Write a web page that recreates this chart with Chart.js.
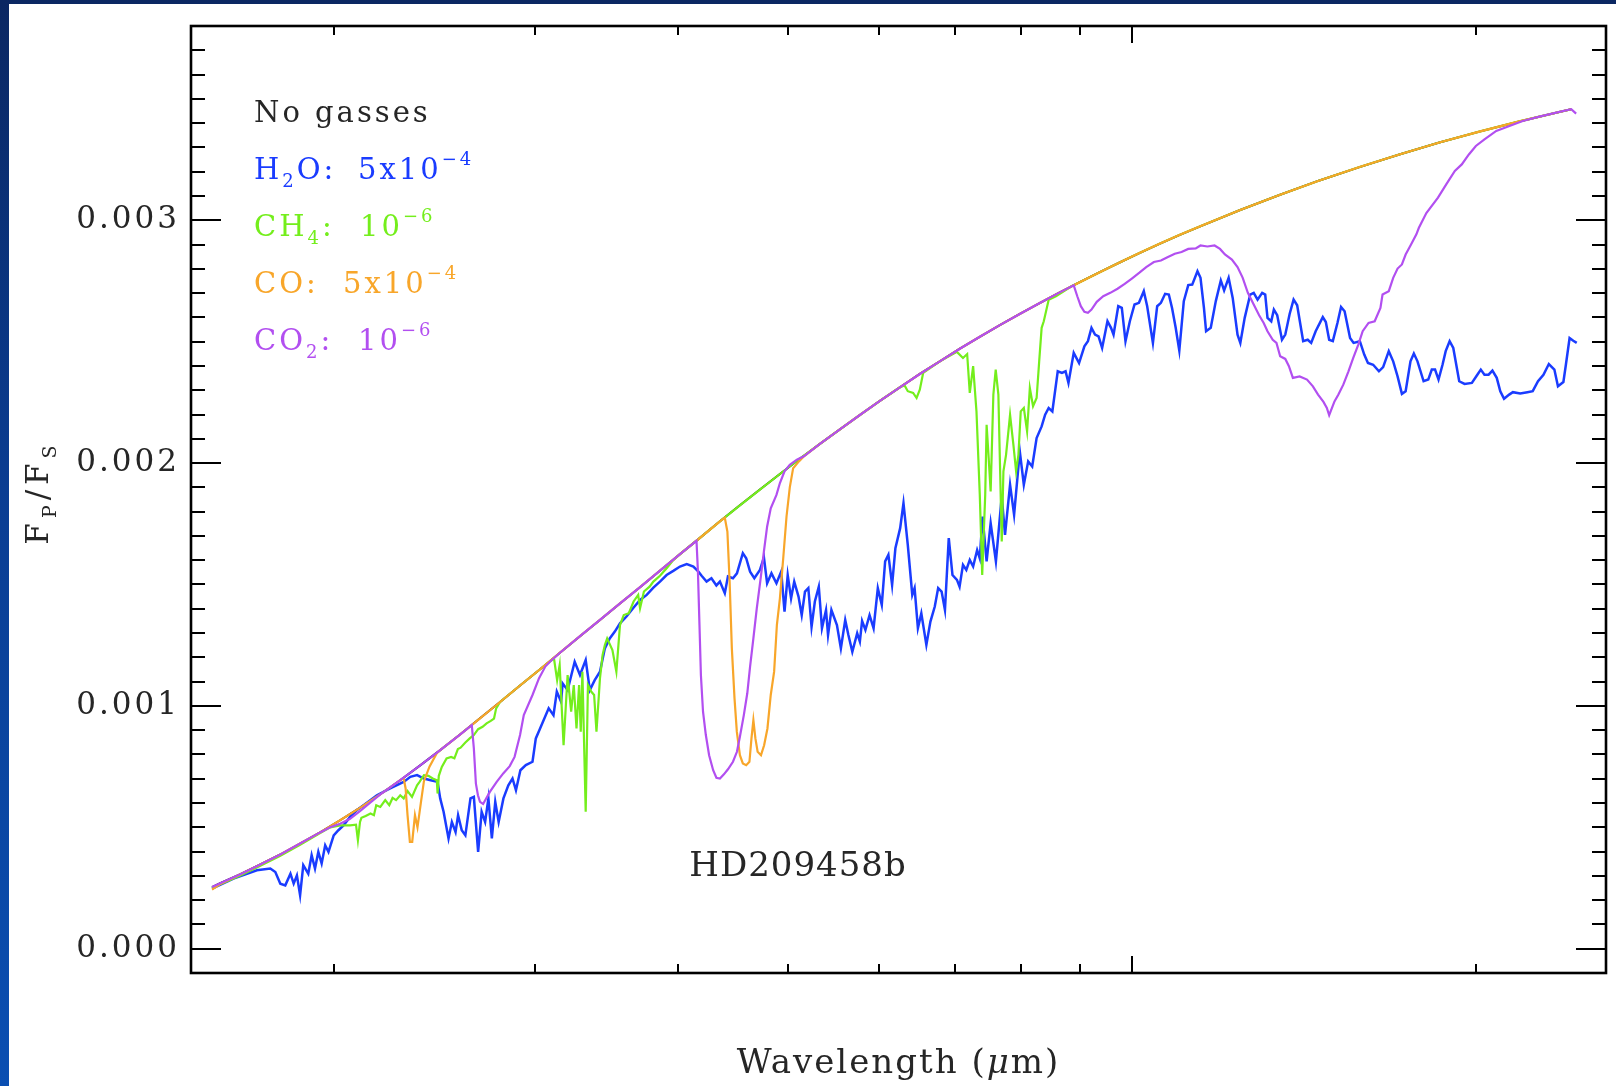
<!DOCTYPE html>
<html>
<head>
<meta charset="utf-8">
<title>HD209458b emission spectrum</title>
<script src="https://cdn.jsdelivr.net/npm/chart.js@4.4.1/dist/chart.umd.min.js"></script>
<style>
  html, body { margin: 0; padding: 0; }
  body {
    width: 1616px; height: 1086px; overflow: hidden;
    background: linear-gradient(to bottom, #0b2762 0%, #0a3d92 45%, #0a4fb2 100%);
  }
  #panel { position: absolute; left: 9px; top: 4px; width: 1607px; height: 1082px; background: #fff; }
</style>
</head>
<body>
<div id="panel"><canvas id="spectrum"></canvas></div>
<script>
// [wavelength in micron, Fp/Fs in units of 1e-3]
var FLUX_UNIT = 1e-3

var noGas = [[1.565,0.254],[1.591,0.270],[1.657,0.307],[1.725,0.347],[1.796,0.388],[1.869,0.433],[1.946,0.479],[2.026,0.529],[2.110,0.581],[2.197,0.636],
  [2.287,0.694],[2.381,0.755],[2.479,0.818],[2.580,0.882],[2.686,0.949],[2.797,1.016],[2.912,1.084],[3.032,1.151],[3.156,1.219],[3.286,1.287],
  [3.421,1.354],[3.562,1.422],[3.709,1.489],[3.861,1.557],[4.020,1.625],[4.185,1.692],[4.357,1.760],[4.536,1.826],[4.723,1.891],[4.917,1.955],
  [5.119,2.018],[5.330,2.079],[5.549,2.139],[5.777,2.198],[6.015,2.256],[6.262,2.312],[6.519,2.367],[6.787,2.419],[7.067,2.471],[7.357,2.520],
  [7.660,2.568],[7.975,2.614],[8.302,2.659],[8.644,2.703],[8.999,2.745],[9.370,2.786],[9.752,2.826],[10.15,2.865],[10.57,2.903],[11.00,2.939],
  [11.46,2.974],[12.42,3.041],[13.46,3.104],[14.59,3.164],[15.82,3.219],[17.14,3.271],[18.58,3.320],[20.14,3.365],[21.83,3.407],[23.66,3.446],[24.24,3.457]]

var h2o = [[1.565,0.247],[1.634,0.289],[1.713,0.323],[1.760,0.330],[1.778,0.316],[1.796,0.268],[1.814,0.261],[1.833,0.309],[1.845,0.268],[1.857,0.302],
  [1.869,0.220],[1.881,0.344],[1.900,0.309],[1.913,0.385],[1.926,0.330],[1.939,0.399],[1.952,0.351],[1.966,0.426],[1.979,0.399],[2.000,0.467],
  [2.019,0.488],[2.040,0.508],[2.067,0.543],[2.095,0.570],[2.124,0.591],[2.182,0.632],[2.241,0.660],[2.303,0.687],[2.334,0.708],[2.366,0.715],
  [2.399,0.701],[2.432,0.694],[2.466,0.687],[2.479,0.619],[2.496,0.564],[2.521,0.454],[2.538,0.522],[2.557,0.481],[2.570,0.550],[2.589,0.488],
  [2.608,0.467],[2.635,0.619],[2.653,0.625],[2.676,0.399],[2.695,0.564],[2.714,0.522],[2.732,0.619],[2.751,0.454],[2.770,0.605],[2.789,0.522],
  [2.816,0.619],[2.844,0.673],[2.868,0.701],[2.888,0.653],[2.914,0.735],[2.946,0.756],[2.986,0.770],[3.006,0.866],[3.032,0.907],[3.085,0.990],
  [3.115,0.962],[3.136,1.059],[3.163,1.017],[3.173,1.093],[3.205,1.065],[3.251,1.182],[3.286,1.127],[3.324,1.189],[3.352,1.065],[3.385,1.106],
  [3.421,1.141],[3.455,1.237],[3.489,1.278],[3.525,1.306],[3.562,1.340],[3.609,1.368],[3.657,1.402],[3.709,1.436],[3.759,1.457],[3.810,1.487],
  [3.861,1.512],[3.913,1.539],[3.966,1.556],[4.020,1.574],[4.075,1.584],[4.130,1.574],[4.172,1.553],[4.199,1.536],[4.241,1.512],[4.283,1.526],
  [4.326,1.496],[4.357,1.512],[4.400,1.464],[4.428,1.533],[4.473,1.526],[4.509,1.546],[4.563,1.629],[4.594,1.608],[4.630,1.553],[4.670,1.526],
  [4.723,1.560],[4.761,1.611],[4.792,1.505],[4.834,1.546],[4.883,1.505],[4.930,1.553],[4.963,1.388],[4.995,1.539],[5.029,1.443],[5.061,1.512],
  [5.105,1.450],[5.138,1.374],[5.172,1.471],[5.207,1.485],[5.241,1.326],[5.276,1.430],[5.318,1.491],[5.352,1.320],[5.396,1.395],[5.418,1.292],
  [5.455,1.395],[5.516,1.333],[5.560,1.237],[5.609,1.354],[5.645,1.292],[5.690,1.223],[5.746,1.299],[5.777,1.265],[5.803,1.350],[5.842,1.313],
  [5.891,1.374],[5.939,1.320],[5.990,1.485],[6.038,1.416],[6.079,1.595],[6.119,1.622],[6.165,1.498],[6.206,1.649],[6.266,1.732],[6.308,1.835],
  [6.363,1.663],[6.421,1.457],[6.451,1.485],[6.494,1.320],[6.539,1.381],[6.606,1.251],[6.660,1.347],[6.719,1.409],[6.765,1.485],[6.812,1.471],
  [6.858,1.395],[6.911,1.691],[6.963,1.539],[7.026,1.519],[7.063,1.491],[7.112,1.581],[7.160,1.560],[7.210,1.601],[7.259,1.574],[7.318,1.642],
  [7.357,1.608],[7.398,1.780],[7.459,1.595],[7.520,1.753],[7.600,1.595],[7.690,1.863],[7.741,1.704],[7.820,1.911],[7.884,1.787],[7.975,2.048],
  [8.040,1.911],[8.111,2.007],[8.177,1.986],[8.250,2.103],[8.334,2.151],[8.393,2.199],[8.453,2.227],[8.516,2.213],[8.609,2.378],[8.682,2.371],
  [8.746,2.378],[8.797,2.330],[8.891,2.454],[8.987,2.412],[9.084,2.481],[9.149,2.502],[9.215,2.557],[9.281,2.529],[9.347,2.522],[9.415,2.474],
  [9.517,2.584],[9.585,2.557],[9.634,2.529],[9.726,2.646],[9.796,2.639],[9.869,2.502],[9.956,2.584],[10.05,2.653],[10.14,2.660],[10.24,2.708],
  [10.31,2.646],[10.43,2.495],[10.52,2.646],[10.60,2.660],[10.69,2.697],[10.77,2.694],[10.84,2.639],[10.92,2.557],[11.00,2.463],[11.10,2.667],
  [11.20,2.733],[11.29,2.735],[11.41,2.790],[11.48,2.763],[11.56,2.639],[11.61,2.543],[11.72,2.557],[11.84,2.667],[11.96,2.752],[12.04,2.711],
  [12.15,2.763],[12.25,2.680],[12.37,2.529],[12.44,2.495],[12.55,2.598],[12.69,2.694],[12.78,2.701],[12.88,2.673],[13.00,2.701],[13.08,2.694],
  [13.14,2.598],[13.24,2.584],[13.31,2.632],[13.40,2.609],[13.53,2.508],[13.62,2.529],[13.74,2.614],[13.85,2.673],[13.95,2.650],[14.12,2.502],
  [14.25,2.508],[14.35,2.495],[14.48,2.543],[14.69,2.601],[14.78,2.581],[14.88,2.508],[14.99,2.502],[15.13,2.577],[15.24,2.643],[15.35,2.625],
  [15.52,2.515],[15.63,2.495],[15.83,2.502],[15.97,2.447],[16.09,2.412],[16.26,2.405],[16.45,2.378],[16.59,2.395],[16.78,2.461],[16.93,2.419],
  [17.08,2.357],[17.23,2.285],[17.36,2.296],[17.53,2.419],[17.65,2.451],[17.78,2.419],[18.00,2.337],[18.17,2.344],[18.30,2.385],[18.42,2.385],
  [18.55,2.344],[18.70,2.405],[18.82,2.461],[18.97,2.502],[19.11,2.474],[19.34,2.337],[19.55,2.326],[19.84,2.330],[20.06,2.364],[20.20,2.385],
  [20.35,2.364],[20.52,2.364],[20.68,2.381],[20.86,2.351],[21.01,2.296],[21.17,2.265],[21.39,2.282],[21.55,2.292],[21.87,2.287],[22.19,2.292],
  [22.43,2.296],[22.67,2.337],[22.92,2.364],[23.17,2.408],[23.43,2.385],[23.60,2.316],[23.86,2.334],[23.98,2.405],[24.16,2.515],[24.34,2.504],[24.51,2.495]]

var ch4 = [[1.565,0.250],[1.591,0.266],[1.657,0.302],[1.725,0.342],[1.796,0.383],[1.869,0.428],[1.946,0.476],[1.986,0.500],[2.026,0.508],[2.067,0.508],
  [2.092,0.511],[2.100,0.447],[2.109,0.522],[2.115,0.539],[2.133,0.547],[2.154,0.557],[2.169,0.550],[2.179,0.591],[2.197,0.584],[2.219,0.612],
  [2.237,0.591],[2.252,0.621],[2.268,0.612],[2.287,0.632],[2.303,0.619],[2.321,0.649],[2.342,0.625],[2.366,0.673],[2.378,0.687],[2.399,0.715],
  [2.421,0.712],[2.442,0.701],[2.462,0.694],[2.466,0.639],[2.472,0.712],[2.487,0.749],[2.511,0.784],[2.534,0.790],[2.551,0.784],[2.569,0.822],
  [2.583,0.828],[2.608,0.849],[2.631,0.866],[2.653,0.880],[2.676,0.904],[2.700,0.914],[2.722,0.928],[2.745,0.938],[2.763,0.948],[2.775,0.990],
  [2.797,1.016],[2.912,1.084],[3.032,1.151],[3.118,1.196],[3.138,1.106],[3.154,1.168],[3.179,0.838],[3.205,1.127],[3.228,0.976],[3.245,1.086],
  [3.263,0.907],[3.280,1.086],[3.291,0.894],[3.302,1.141],[3.324,0.564],[3.339,1.086],[3.361,1.059],[3.381,1.045],[3.397,0.894],[3.421,1.113],
  [3.439,1.209],[3.455,1.251],[3.471,1.278],[3.508,1.230],[3.536,1.141],[3.562,1.333],[3.589,1.374],[3.625,1.381],[3.661,1.430],[3.695,1.457],
  [3.709,1.402],[3.738,1.471],[3.781,1.491],[3.810,1.512],[3.861,1.536],[3.913,1.567],[3.961,1.598],[4.020,1.625],[4.185,1.692],[4.357,1.760],
  [4.536,1.826],[4.723,1.891],[4.917,1.955],[5.119,2.018],[5.330,2.079],[5.549,2.139],[5.777,2.198],[6.015,2.256],[6.262,2.312],[6.322,2.320],
  [6.363,2.296],[6.432,2.289],[6.477,2.268],[6.519,2.302],[6.564,2.372],[6.787,2.419],[7.026,2.458],[7.112,2.433],[7.172,2.449],[7.210,2.289],
  [7.259,2.399],[7.308,2.213],[7.357,1.869],[7.393,1.539],[7.438,1.869],[7.459,2.158],[7.490,2.021],[7.520,1.883],[7.561,2.282],[7.597,2.385],
  [7.638,2.282],[7.690,1.677],[7.716,1.966],[7.757,2.034],[7.820,2.199],[7.873,2.075],[7.916,1.966],[7.953,2.034],[7.990,2.213],[8.040,2.227],
  [8.093,2.131],[8.138,2.309],[8.191,2.234],[8.250,2.268],[8.293,2.419],[8.334,2.557],[8.370,2.584],[8.453,2.673],[8.578,2.687],[8.733,2.710],
  [8.859,2.729],[8.999,2.745],[9.370,2.786],[9.752,2.826],[10.15,2.865],[10.57,2.903],[11.00,2.939],[11.46,2.974],[12.42,3.041],[13.46,3.104],
  [14.59,3.164],[15.82,3.219],[17.14,3.271],[18.58,3.320],[20.14,3.365],[21.83,3.407],[23.66,3.446],[24.24,3.457]]

var co = [[1.565,0.243],[1.591,0.266],[1.657,0.307],[1.725,0.347],[1.796,0.388],[1.869,0.433],[1.946,0.479],[2.026,0.529],[2.110,0.581],[2.197,0.636],
  [2.287,0.694],[2.303,0.703],[2.312,0.660],[2.321,0.550],[2.332,0.440],[2.343,0.440],[2.356,0.550],[2.368,0.500],[2.384,0.600],[2.399,0.690],
  [2.426,0.750],[2.462,0.805],[2.479,0.818],[2.580,0.882],[2.686,0.949],[2.797,1.016],[2.912,1.084],[3.032,1.151],[3.156,1.219],[3.286,1.287],
  [3.421,1.354],[3.562,1.422],[3.709,1.489],[3.861,1.557],[4.020,1.625],[4.185,1.692],[4.357,1.760],[4.400,1.775],[4.423,1.718],[4.443,1.512],
  [4.463,1.237],[4.487,1.031],[4.508,0.894],[4.536,0.797],[4.563,0.763],[4.594,0.756],[4.624,0.770],[4.643,0.866],[4.661,0.941],[4.680,0.866],
  [4.701,0.811],[4.733,0.797],[4.763,0.838],[4.795,0.907],[4.827,1.045],[4.860,1.141],[4.887,1.333],[4.917,1.443],[4.950,1.608],[4.983,1.780],
  [5.016,1.900],[5.050,1.979],[5.109,2.007],[5.167,2.030],[5.330,2.079],[5.549,2.139],[5.777,2.198],[6.015,2.256],[6.262,2.312],[6.519,2.367],
  [6.787,2.419],[7.067,2.471],[7.357,2.520],[7.660,2.568],[7.975,2.614],[8.302,2.659],[8.644,2.703],[8.999,2.745],[9.370,2.786],[9.752,2.826],
  [10.15,2.865],[10.57,2.903],[11.00,2.939],[11.46,2.974],[12.42,3.041],[13.46,3.104],[14.59,3.164],[15.82,3.219],[17.14,3.271],[18.58,3.320],
  [20.14,3.365],[21.83,3.407],[23.66,3.446],[24.24,3.457]]

var co2 = [[1.565,0.254],[1.591,0.270],[1.657,0.307],[1.725,0.347],[1.796,0.388],[1.869,0.433],[1.946,0.479],[1.986,0.500],[2.026,0.515],[2.067,0.535],
  [2.110,0.568],[2.154,0.603],[2.197,0.636],[2.287,0.694],[2.381,0.755],[2.479,0.818],[2.580,0.882],[2.642,0.921],[2.653,0.825],[2.664,0.680],
  [2.675,0.632],[2.686,0.605],[2.703,0.596],[2.740,0.646],[2.778,0.687],[2.815,0.722],[2.852,0.752],[2.880,0.790],[2.912,0.880],[2.934,0.962],
  [2.986,1.045],[3.025,1.113],[3.064,1.162],[3.093,1.182],[3.156,1.219],[3.286,1.287],[3.421,1.354],[3.562,1.422],[3.709,1.489],[3.861,1.557],
  [4.020,1.625],[4.156,1.680],[4.168,1.553],[4.181,1.333],[4.193,1.127],[4.211,0.976],[4.235,0.880],[4.263,0.797],[4.298,0.735],[4.326,0.704],
  [4.357,0.701],[4.392,0.718],[4.428,0.739],[4.473,0.770],[4.509,0.811],[4.536,0.873],[4.572,0.962],[4.604,1.052],[4.630,1.162],[4.661,1.278],
  [4.693,1.402],[4.730,1.526],[4.761,1.636],[4.792,1.739],[4.827,1.814],[4.883,1.869],[4.917,1.918],[4.963,1.966],[5.016,1.993],[5.088,2.014],
  [5.160,2.028],[5.330,2.079],[5.549,2.139],[5.777,2.198],[6.015,2.256],[6.262,2.312],[6.519,2.367],[6.787,2.419],[7.067,2.471],[7.357,2.520],
  [7.660,2.568],[7.975,2.614],[8.302,2.659],[8.644,2.703],[8.891,2.732],[8.955,2.687],[9.019,2.646],[9.084,2.623],[9.149,2.619],[9.215,2.632],
  [9.314,2.664],[9.436,2.687],[9.571,2.701],[9.712,2.718],[9.853,2.738],[9.996,2.760],[10.15,2.784],[10.29,2.807],[10.45,2.828],[10.60,2.834],
  [10.74,2.848],[10.90,2.862],[11.05,2.869],[11.20,2.882],[11.37,2.884],[11.48,2.896],[11.64,2.892],[11.81,2.896],[11.94,2.882],[12.06,2.859],
  [12.23,2.838],[12.37,2.807],[12.50,2.763],[12.63,2.701],[12.78,2.653],[12.92,2.609],[13.04,2.577],[13.14,2.543],[13.28,2.508],[13.38,2.495],
  [13.48,2.440],[13.62,2.429],[13.72,2.399],[13.83,2.351],[14.02,2.357],[14.23,2.344],[14.40,2.316],[14.55,2.282],[14.71,2.252],[14.81,2.227],
  [14.88,2.197],[15.04,2.254],[15.16,2.282],[15.31,2.323],[15.47,2.378],[15.62,2.433],[15.78,2.488],[15.92,2.543],[16.11,2.577],[16.31,2.584],
  [16.50,2.639],[16.57,2.694],[16.78,2.708],[16.93,2.763],[17.08,2.801],[17.23,2.818],[17.36,2.859],[17.55,2.900],[17.74,2.942],[17.83,2.969],
  [18.10,3.030],[18.53,3.093],[18.84,3.148],[19.17,3.203],[19.44,3.230],[19.72,3.271],[20.00,3.306],[20.35,3.333],[20.84,3.368],[21.40,3.388],
  [21.98,3.409],[22.73,3.427],[23.52,3.443],[24.24,3.457],[24.48,3.439]]

var xTickValues = [2, 3, 4, 5, 6, 7, 8, 9, 10, 20]
var xMajorTick = 10
var yLabelValues = [0, 0.001, 0.002, 0.003]
var yMinorStep = 0.0001

var h2oColor = '#1a3cff'
var ch4Color = '#74ee1c'
var coColor = '#f8a62a'
var co2Color = '#b24ff0'
var inkColor = '#262626'
var FONT = '"DejaVu Serif", serif'

var targetName = 'HD209458b'
var targetLabelAt = [5.1, 0.0003]

// text pieces: [text, 'sub' | 'sup' | 'it' | '']
var legendRows = [
  { color: inkColor, label: [['No gasses', '']] },
  { color: h2oColor, label: [['H', ''], ['2', 'sub'], ['O:', '']], amount: [['5x10', ''], ['\u22124', 'sup']], amountAt: 104 },
  { color: ch4Color, label: [['CH', ''], ['4', 'sub'], [':', '']], amount: [['10', ''], ['\u22126', 'sup']], amountAt: 106 },
  { color: coColor, label: [['CO:', '']], amount: [['5x10', ''], ['\u22124', 'sup']], amountAt: 89 },
  { color: co2Color, label: [['CO', ''], ['2', 'sub'], [':', '']], amount: [['10', ''], ['\u22126', 'sup']], amountAt: 104 }
]
var xTitle = [['Wavelength (', ''], ['\u03bc', 'it'], ['m)', '']]
var yTitle = [['F', ''], ['P', 'sub'], ['/', ''], ['F', ''], ['S', 'sub']]

function setFont(ctx, kind, size) {
  var small = kind === 'sub' || kind === 'sup'
  ctx.font = (kind === 'it' ? 'italic ' : '') + (small ? Math.round(size * 0.62) : size) + 'px ' + FONT
}

function partsWidth(ctx, parts, size) {
  var w = 0
  parts.forEach(function (p) { setFont(ctx, p[1], size); w += ctx.measureText(p[0]).width })
  return w
}

function drawParts(ctx, x, y, parts, size) {
  parts.forEach(function (p) {
    setFont(ctx, p[1], size)
    var dy = p[1] === 'sub' ? size * 0.26 : p[1] === 'sup' ? -size * 0.5 : 0
    ctx.fillText(p[0], x, y + dy)
    x += ctx.measureText(p[0]).width
  })
  return x
}

function isLabelled(v) {
  return yLabelValues.some(function (l) { return Math.abs(l - v) < 1e-9 })
}

var frameAndText = {
  id: 'frameAndText',
  beforeDraw: function (chart) {
    // wider spacing for the tick numbers
    chart.ctx.letterSpacing = '3px'
  },
  afterDraw: function (chart) {
    var ctx = chart.ctx, a = chart.chartArea, xs = chart.scales.x, ys = chart.scales.y
    ctx.save()

    // inward ticks on all four sides
    ctx.strokeStyle = '#000'
    ctx.lineWidth = 2
    ctx.beginPath()
    ys.ticks.forEach(function (t) {
      var py = Math.round(ys.getPixelForValue(t.value))
      if (py < a.top + 3 || py > a.bottom - 3) return
      var len = isLabelled(t.value) ? 30 : 14
      ctx.moveTo(a.left, py); ctx.lineTo(a.left + len, py)
      ctx.moveTo(a.right, py); ctx.lineTo(a.right - len, py)
    })
    xs.ticks.forEach(function (t) {
      var px = Math.round(xs.getPixelForValue(t.value))
      var len = t.value === xMajorTick ? 17 : 9
      ctx.moveTo(px, a.bottom); ctx.lineTo(px, a.bottom - len)
      ctx.moveTo(px, a.top); ctx.lineTo(px, a.top + len)
    })
    ctx.stroke()
    ctx.lineWidth = 2.6
    ctx.strokeRect(a.left, a.top, a.right - a.left, a.bottom - a.top)

    ctx.textBaseline = 'alphabetic'
    ctx.textAlign = 'left'

    // legend of gas abundances
    ctx.letterSpacing = '3px'
    legendRows.forEach(function (row, i) {
      var x0 = a.left + 63, y0 = a.top + 96 + i * 57
      ctx.fillStyle = row.color
      drawParts(ctx, x0, y0, row.label, 29)
      if (row.amount) drawParts(ctx, x0 + row.amountAt, y0, row.amount, 29)
    })

    // planet name
    ctx.letterSpacing = '1px'
    ctx.fillStyle = inkColor
    var tx = xs.getPixelForValue(targetLabelAt[0]), ty = ys.getPixelForValue(targetLabelAt[1])
    ctx.font = '34px ' + FONT
    ctx.textAlign = 'center'
    ctx.fillText(targetName, tx, ty)
    ctx.textAlign = 'left'

    // axis titles
    ctx.letterSpacing = '2px'
    var w = partsWidth(ctx, xTitle, 34)
    drawParts(ctx, (a.left + a.right) / 2 - w / 2, a.bottom + 100, xTitle, 34)

    ctx.letterSpacing = '5px'
    ctx.translate(39, (a.top + a.bottom) / 2 - 7)
    ctx.rotate(-Math.PI / 2)
    w = partsWidth(ctx, yTitle, 31)
    drawParts(ctx, -w / 2, 0, yTitle, 31)

    ctx.restore()
  }
}

function toPoints(pairs) {
  return pairs.map(function (p) { return { x: p[0], y: p[1] * FLUX_UNIT } })
}

// lower order is painted later, so CO2 ends up on top
var series = [
  { label: 'No gasses', pairs: noGas, color: '#000000', width: 2, order: 5 },
  { label: 'H2O', pairs: h2o, color: h2oColor, width: 2.5, order: 4 },
  { label: 'CH4', pairs: ch4, color: ch4Color, width: 2.2, order: 3 },
  { label: 'CO', pairs: co, color: coColor, width: 2.2, order: 2 },
  { label: 'CO2', pairs: co2, color: co2Color, width: 2.2, order: 1 }
]

new Chart(document.getElementById('spectrum'), {
  type: 'line',
  data: {
    datasets: series.map(function (s) {
      return {
        label: s.label,
        data: toPoints(s.pairs),
        borderColor: s.color,
        borderWidth: s.width,
        pointRadius: 0,
        tension: 0,
        fill: false,
        order: s.order
      }
    })
  },
  options: {
    responsive: true,
    maintainAspectRatio: false,
    animation: false,
    events: [],
    layout: { autoPadding: false, padding: { top: 22, right: 10, left: 0, bottom: 0 } },
    plugins: { legend: { display: false }, tooltip: { enabled: false } },
    scales: {
      x: {
        type: 'logarithmic',
        min: 1.5,
        max: 26,
        grid: { display: false, drawTicks: false },
        border: { display: false },
        ticks: { display: false },
        afterBuildTicks: function (s) { s.ticks = xTickValues.map(function (v) { return { value: v } }) },
        afterFit: function (s) { s.height = 113; s.paddingLeft = 0; s.paddingRight = 0 }
      },
      y: {
        type: 'linear',
        min: -0.0001,
        max: 0.0038,
        grid: { display: false, drawTicks: false },
        border: { display: false },
        ticks: {
          autoSkip: false,
          padding: 11,
          color: inkColor,
          font: { family: 'DejaVu Serif', size: 31 },
          callback: function (v) { return isLabelled(v) ? v.toFixed(3) : '' }
        },
        afterBuildTicks: function (s) {
          var ticks = []
          for (var k = 0; k <= 38; k++) ticks.push({ value: k * yMinorStep })
          s.ticks = ticks
        },
        afterFit: function (s) { s.width = 182; s.paddingTop = 0; s.paddingBottom = 0 }
      }
    }
  },
  plugins: [frameAndText]
})
</script>
</body>
</html>
